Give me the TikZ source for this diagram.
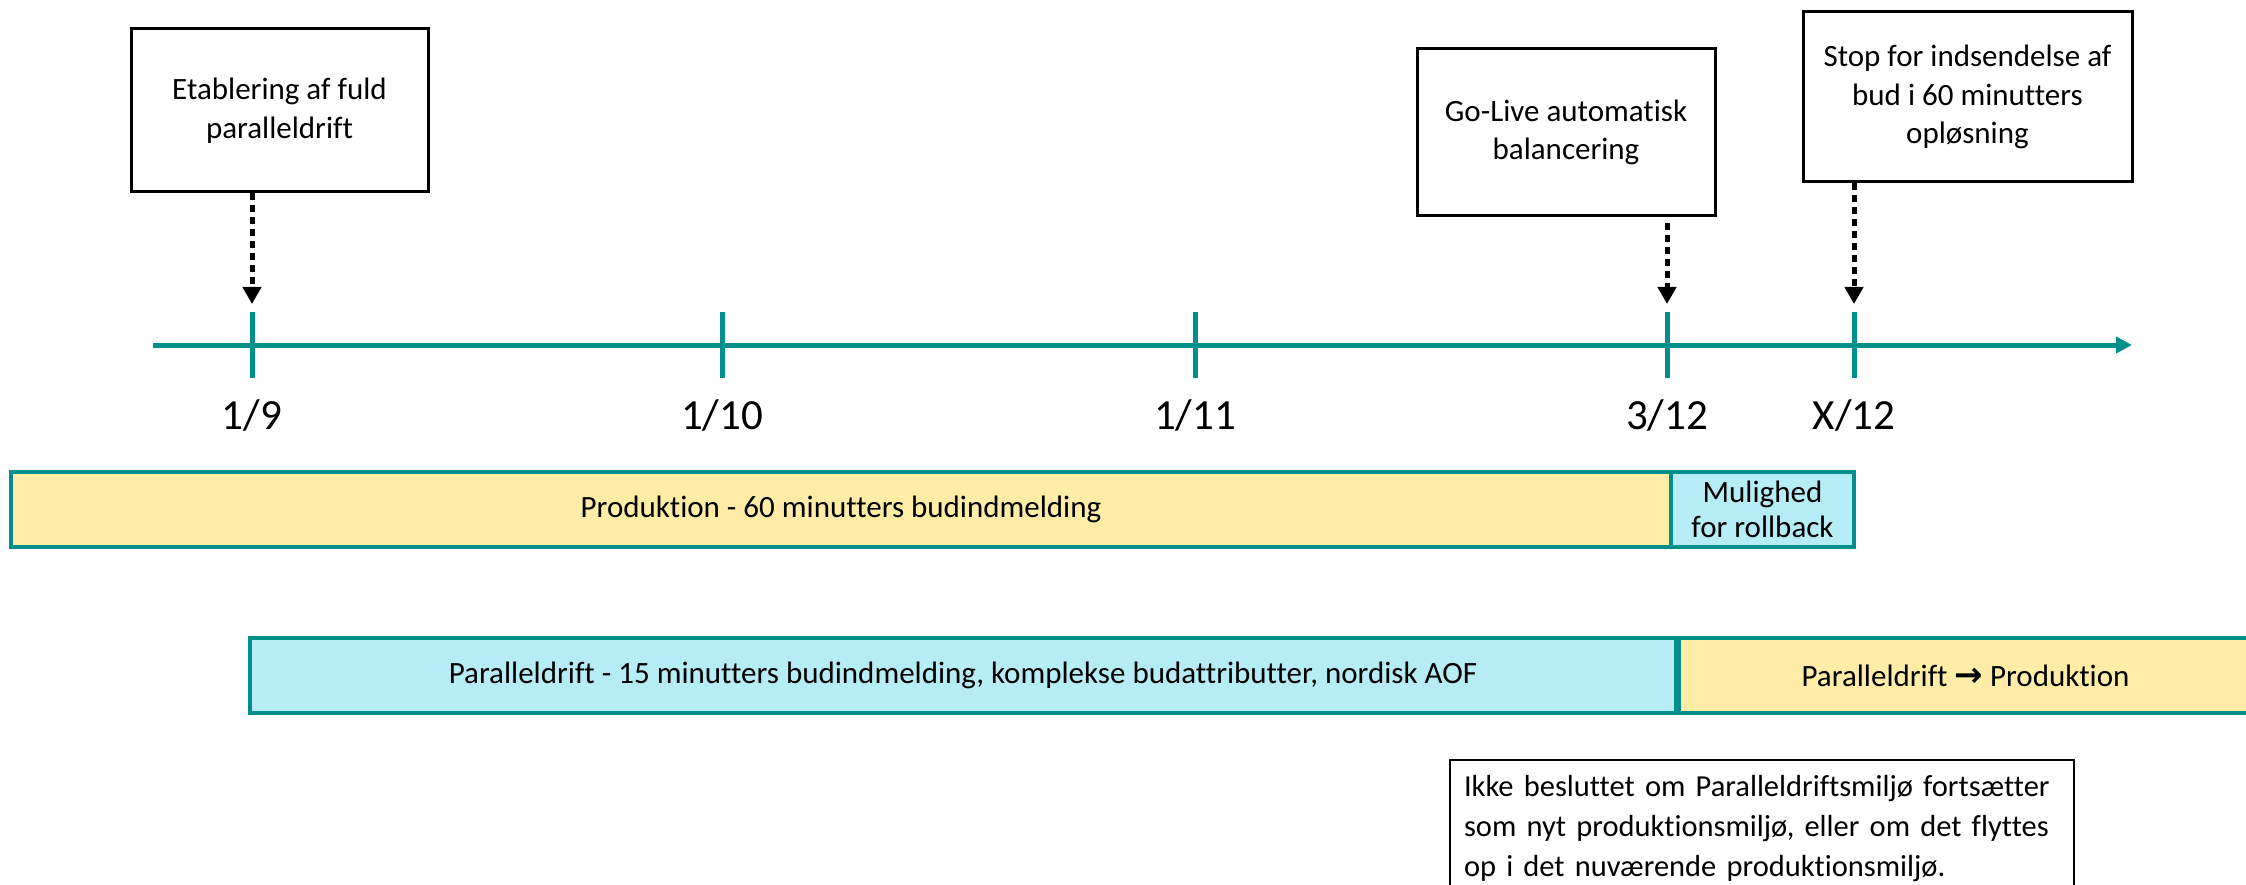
\documentclass[tikz,border=0pt]{standalone}
\usepackage{fontspec}
\setmainfont{Carlito}[Ligatures=NoCommon]
\newfontfamily\dejavu{DejaVu Sans}
\usetikzlibrary{arrows.meta}
\definecolor{teal1}{RGB}{0,143,138}
\definecolor{yel}{RGB}{255,236,167}
\definecolor{blu}{RGB}{182,236,246}
\begin{document}
\begin{tikzpicture}[x=1pt,y=-1pt,
  event/.style={draw=black, line width=3pt, fill=white, align=center, inner sep=0pt,
    font=\fontsize{31}{38.5}\selectfont},
  bar/.style={draw=teal1, line width=3.5pt, align=center, inner sep=0pt, minimum height=75pt,
    font=\fontsize{31}{35}\selectfont},
  axisline/.style={draw=teal1, line width=5pt, -{Triangle[length=16pt,width=16pt]}},
  tickline/.style={draw=teal1, line width=5pt},
  tlabel/.style={anchor=base, inner sep=0pt, font=\fontsize{43}{50}\selectfont},
  dotarr/.style={draw=black, line width=5pt, dash pattern=on 7pt off 5pt,
    -{Triangle[length=17pt,width=18pt]}},
  note/.style={draw=black, line width=2pt, anchor=north west, align=left, inner xsep=14pt,
    inner ysep=15pt, text width=596pt,
    font=\fontsize{30.5}{40}\selectfont}
]
\useasboundingbox (0,0) rectangle (2246,885);
\clip (0,0) rectangle (2246,885);

% axis
\coordinate (astart) at (153,345);
\coordinate (aend) at (2132,345);
\coordinate (t1) at (252,345);
\coordinate (t2) at (722,345);
\coordinate (t3) at (1195,345);
\coordinate (t4) at (1667,345);
\coordinate (t5) at (1854,345);
\draw[axisline] (astart) -- (aend);
\foreach \i in {1,...,5}{
  \draw[tickline] ([yshift=33pt]t\i) -- ([yshift=-33pt]t\i);
}
\node[tlabel] (l1) at (252,429) {1/9};
\node[tlabel] (l2) at (722,429) {1/10};
\node[tlabel] (l3) at (1195,429) {1/11};
\node[tlabel] (l4) at (1667,429) {3/12};
\node[tlabel] (l5) at (1854,429) {X/12};

% event boxes
\node[event, minimum width=297pt, minimum height=163pt] (b1) at (279.5,110.5)
  {Etablering af fuld\\paralleldrift};
\node[event, minimum width=298pt, minimum height=167pt] (b2) at (1566,132.5)
  {Go-Live automatisk\\balancering};
\node[event, minimum width=329pt, minimum height=170pt] (b3) at (1967.5,97)
  {Stop for indsendelse af\\bud i 60 minutters\\opløsning};

\coordinate (e1) at (252,304);
\coordinate (e4) at (1667,304);
\coordinate (e5) at (1854,304);
\draw[dotarr] (b1.south -| t1) -- (e1);
\draw[dotarr, shorten <=6pt] (b2.south -| t4) -- (e4);
\draw[dotarr] (b3.south -| t5) -- (e5);

% bars
\node[bar, fill=yel, minimum width=1660pt] (prod) at (841,509.5)
  {Produktion - 60 minutters budindmelding};
\node[bar, fill=blu, minimum width=183pt] (roll) at (1762.5,509.5)
  {Mulighed\\for rollback};
\node[bar, fill=blu, minimum width=1426pt] (para) at (963,675.5)
  {Paralleldrift - 15 minutters budindmelding, komplekse budattributter, nordisk AOF};
\node[bar, fill=yel, minimum width=580pt, anchor=west] (para2) at (para.east)
  {\hspace*{-8pt}Paralleldrift {\dejavu\bfseries\fontsize{34}{35}\selectfont →} Produktion};

% note
\node[note] (nt) at (1449,759)
  {Ikke besluttet om Paralleldriftsmiljø fortsætter\\
   som nyt produktionsmiljø, eller om det flyttes\\
   op i det nuværende produktionsmiljø.};
\end{tikzpicture}
\end{document}
